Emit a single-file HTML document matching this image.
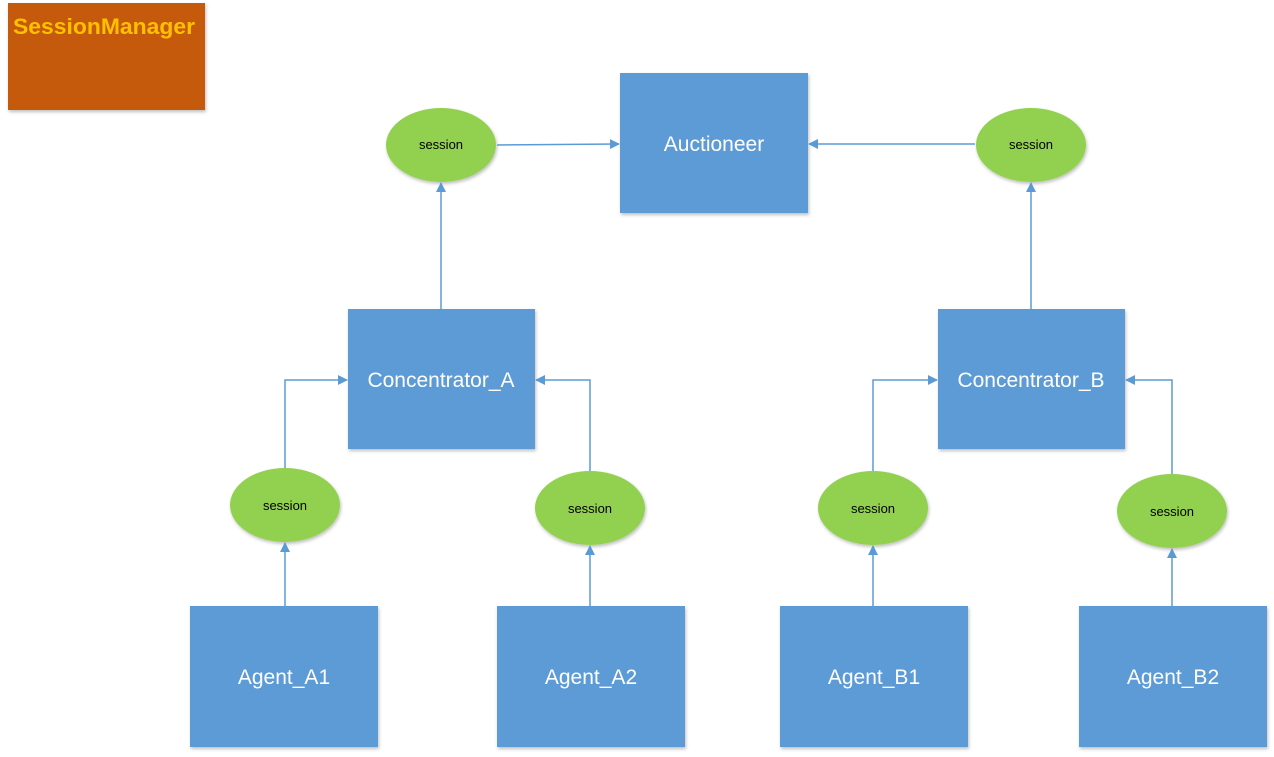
<!DOCTYPE html>
<html><head><meta charset="utf-8"><style>body{margin:0;background:#fff}svg{display:block}</style></head><body>
<svg width="1274" height="757" viewBox="0 0 1274 757" xmlns="http://www.w3.org/2000/svg" font-family="Liberation Sans, sans-serif">
<defs>
<marker id="a" markerWidth="10" markerHeight="10" refX="9" refY="5" orient="auto" markerUnits="userSpaceOnUse"><path d="M0,0 L10,5 L0,10 z" fill="#5b9bd5"/></marker>
<filter id="s" x="-10%" y="-10%" width="130%" height="130%"><feDropShadow dx="1" dy="2" stdDeviation="1.5" flood-color="#000" flood-opacity="0.25"/></filter>
</defs>
<rect x="8" y="3" width="197" height="107" fill="#c55a11" filter="url(#s)"/>
<text x="13" y="34" font-size="22" font-weight="bold" fill="#ffc000" textLength="182" lengthAdjust="spacingAndGlyphs">SessionManager</text>
<g fill="#5b9bd5" filter="url(#s)">
<rect x="620" y="73" width="188" height="140"/>
<rect x="348" y="309" width="187" height="140"/>
<rect x="938" y="309" width="187" height="140"/>
<rect x="190" y="606" width="188" height="141"/>
<rect x="497" y="606" width="188" height="141"/>
<rect x="780" y="606" width="188" height="141"/>
<rect x="1079" y="606" width="188" height="141"/>
</g>
<g fill="#92d050" filter="url(#s)">
<ellipse cx="441" cy="145" rx="55" ry="37"/>
<ellipse cx="1031" cy="145" rx="55" ry="37"/>
<ellipse cx="285" cy="505" rx="55" ry="37"/>
<ellipse cx="590" cy="508" rx="55" ry="37"/>
<ellipse cx="873" cy="508" rx="55" ry="37"/>
<ellipse cx="1172" cy="511" rx="55" ry="37"/>
</g>
<g fill="#fff" font-size="21" text-anchor="middle">
<text x="714" y="151">Auctioneer</text>
<text x="441" y="387">Concentrator_A</text>
<text x="1031" y="387">Concentrator_B</text>
<text x="284" y="684">Agent_A1</text>
<text x="591" y="684">Agent_A2</text>
<text x="874" y="684">Agent_B1</text>
<text x="1173" y="684">Agent_B2</text>
</g>
<g fill="#000" font-size="13" text-anchor="middle">
<text x="441" y="149">session</text>
<text x="1031" y="149">session</text>
<text x="285" y="510">session</text>
<text x="590" y="513">session</text>
<text x="873" y="513">session</text>
<text x="1172" y="516">session</text>
</g>
<g stroke="#5b9bd5" stroke-width="1.5" fill="none" marker-end="url(#a)">
<path d="M497,145 L619,144"/>
<path d="M975,144 L809,144"/>
<path d="M441,309 L441,183"/>
<path d="M1031,309 L1031,183"/>
<path d="M285,468 L285,380 L347,380"/>
<path d="M590,471 L590,380 L536,380"/>
<path d="M873,471 L873,380 L937,380"/>
<path d="M1172,474 L1172,380 L1126,380"/>
<path d="M285,606 L285,543"/>
<path d="M590,606 L590,546"/>
<path d="M873,606 L873,546"/>
<path d="M1172,606 L1172,549"/>
</g>
</svg>
</body></html>
